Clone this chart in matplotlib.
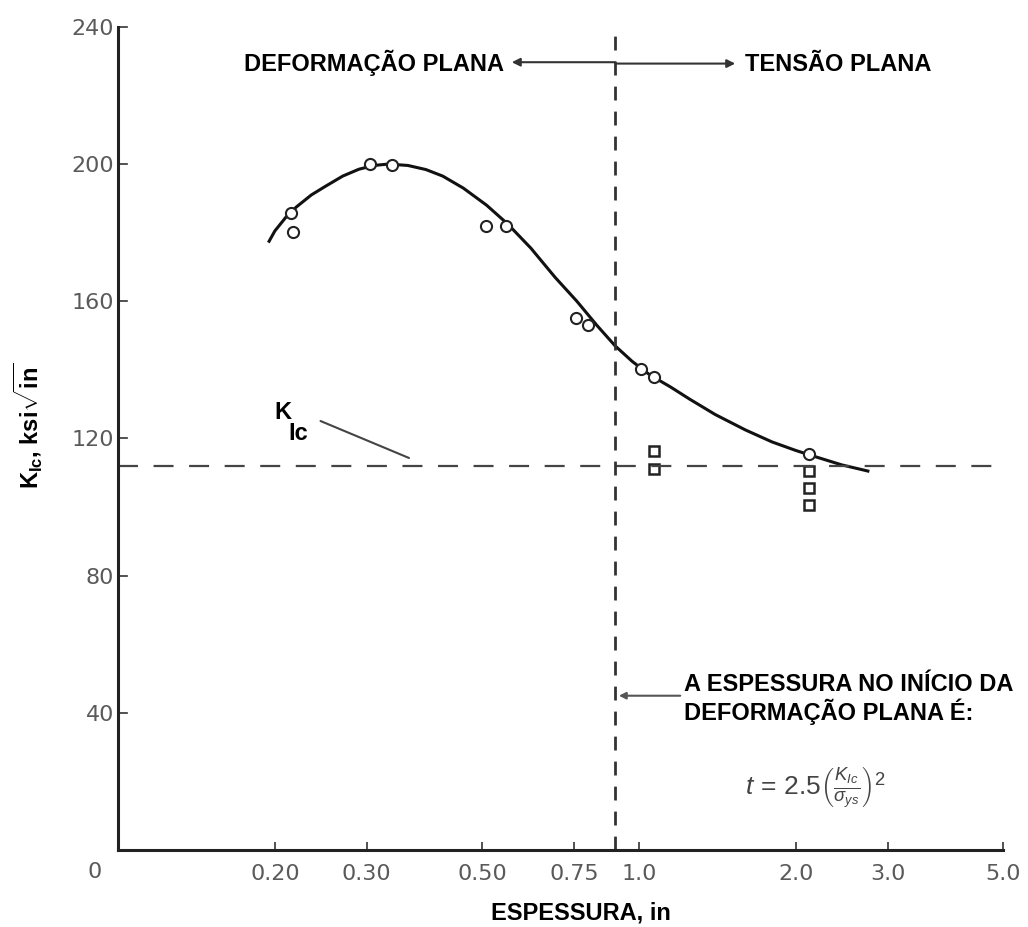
import matplotlib
matplotlib.use('Agg')
import matplotlib.pyplot as plt

# curve (thickness in, K in ksi*sqrt(in))
curve_x = [0.195, 0.20, 0.21, 0.22, 0.235, 0.25, 0.27, 0.29, 0.31, 0.33, 0.36, 0.39,
           0.42, 0.46, 0.51, 0.56, 0.62, 0.69, 0.76, 0.83, 0.90, 0.97, 1.05, 1.15,
           1.25, 1.4, 1.6, 1.8, 2.0, 2.2, 2.45, 2.75]
curve_y = [177.5, 180.5, 184.5, 187.5, 191, 193.5, 196.5, 198.5, 199.6, 200, 199.6, 198.4,
           196.5, 193, 188, 182.5, 175.5, 167, 160, 153, 147, 142.5, 138.5, 135,
           131.5, 127, 122.5, 119, 116.5, 114.5, 112.3, 110.5]

circle_x = [0.215, 0.217, 0.305, 0.335, 0.509, 0.556, 0.757, 0.80, 1.01, 1.07, 2.12]
circle_y = [185.8, 180.2, 200, 199.7, 182, 182, 155.2, 153.2, 140.4, 138, 115.4]

square_x = [1.07, 1.07, 2.12, 2.12, 2.12]
square_y = [116.3, 111, 110.5, 105.5, 100.5]

k_ic = 112
t_plane = 0.9

x_ticks = [0.2, 0.3, 0.5, 0.75, 1.0, 2.0, 3.0, 5.0]
x_labels = ['0.20', '0.30', '0.50', '0.75', '1.0', '2.0', '3.0', '5.0']
y_ticks = [40, 80, 120, 160, 200, 240]

plt.rcParams['mathtext.fontset'] = 'custom'
plt.rcParams['mathtext.rm'] = 'Liberation Sans'
plt.rcParams['mathtext.it'] = 'Liberation Sans:italic'
plt.rcParams['mathtext.bf'] = 'Liberation Sans:bold'

bold_font = ['Liberation Sans', 'DejaVu Sans']
tick_gray = '#5a5a5a'

fig = plt.figure(figsize=(10.28, 9.27), dpi=100)
ax = fig.add_axes([0.1148, 0.083, 0.861, 0.888])
ax.set_xscale('log')
ax.set_xlim(0.1, 5.0)
ax.set_ylim(0, 240)

for side in ['top', 'right']:
    ax.spines[side].set_visible(False)
for side in ['left', 'bottom']:
    ax.spines[side].set_linewidth(2.2)
    ax.spines[side].set_color('#222222')

ax.set_xticks(x_ticks)
ax.set_xticklabels(x_labels)
ax.xaxis.set_minor_locator(matplotlib.ticker.NullLocator())
ax.set_yticks(y_ticks)
ax.tick_params(direction='in', length=6, width=1.2, colors='#333333',
               labelcolor=tick_gray, labelsize=16)
ax.tick_params(axis='x', pad=10)
ax.tick_params(axis='y', left=False, pad=3)
# y ticks sit to the right of the axis in the original
for yt in y_ticks:
    ax.plot([0.1, 0.104], [yt, yt], color='#333333', lw=1.2, clip_on=False)
ax.text(0.093, -3.5, '0', ha='right', va='top', fontsize=16, color=tick_gray)

# fitted curve and data
ax.plot(curve_x, curve_y, color='#111111', lw=2.2)
ax.plot(circle_x, circle_y, 'o', ms=8, mfc='white', mec='#222222', mew=1.5)
ax.plot(square_x, square_y, 's', ms=7, mfc='white', mec='#222222', mew=1.8)

# K_Ic level and plane-strain boundary
ax.axhline(k_ic, color='#444444', lw=1.6, dashes=(9, 7))
ax.plot([t_plane, t_plane], [0, 240], color='#333333', lw=2, dashes=(5, 4))

ax.text(0.2, 127.5, 'K', fontsize=17, fontweight='bold', family=bold_font,
        ha='left', va='center')
ax.text(0.212, 121.5, 'Ic', fontsize=17, fontweight='bold', family=bold_font,
        ha='left', va='center')
ax.annotate('', xy=(0.366, 114), xytext=(0.242, 125.4),
            arrowprops=dict(arrowstyle='-', color='#444444', lw=1.5))

ax.text(0.55, 229.5, 'DEFORMAÇÃO PLANA', fontsize=17, fontweight='bold',
        family=bold_font, ha='right', va='center')
ax.annotate('', xy=(0.57, 229.7), xytext=(t_plane, 229.7),
            arrowprops=dict(arrowstyle='-|>', color='#333333', lw=1.5,
                            mutation_scale=12, shrinkA=0, shrinkB=0))
ax.annotate('', xy=(1.53, 229.3), xytext=(t_plane, 229.3),
            arrowprops=dict(arrowstyle='-|>', color='#333333', lw=1.5,
                            mutation_scale=12, shrinkA=0, shrinkB=0))
ax.text(1.60, 229, 'TENSÃO PLANA', fontsize=17, fontweight='bold',
        family=bold_font, ha='left', va='center')

ax.text(1.22, 44, 'A ESPESSURA NO INÍCIO DA\nDEFORMAÇÃO PLANA É:', fontsize=17,
        fontweight='bold', family=bold_font, ha='left', va='center',
        linespacing=1.1)
ax.annotate('', xy=(t_plane + 0.015, 45), xytext=(1.2, 45),
            arrowprops=dict(arrowstyle='-|>', color='#555555', lw=1.5,
                            mutation_scale=10, shrinkA=0, shrinkB=0))
ax.text(1.6, 18, r'$t\,=\,2.5\left(\frac{K_{Ic}}{\sigma_{ys}}\right)^2$',
        fontsize=19, color='#444444', ha='left', va='center')

ax.set_xlabel('ESPESSURA, in', fontsize=17, fontweight='bold',
              family=bold_font)
ax.xaxis.set_label_coords(0.523, -0.062)
ax.set_ylabel(r'$\mathbf{K_{Ic}}$, ksi$\sqrt{\mathbf{in}}$', fontsize=17,
              fontweight='bold', family=bold_font)
ax.yaxis.set_label_coords(-0.083, 0.515)

fig.savefig('out.png', dpi=100)
